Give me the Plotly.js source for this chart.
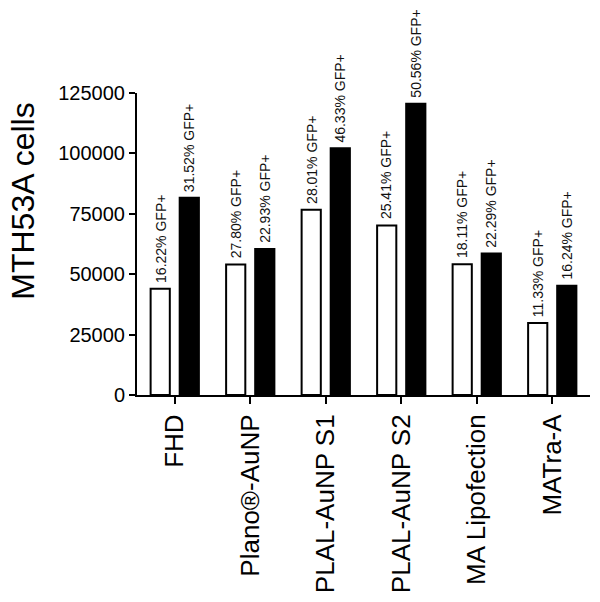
<!DOCTYPE html>
<html>
<head>
<meta charset="utf-8">
<script src="https://cdn.plot.ly/plotly-3.0.1.min.js"></script>
<style>html,body{margin:0;padding:0;background:#fff;}#chart{width:600px;height:602px;}</style>
</head>
<body>
<div id="chart"></div>
<script>
const categories = ["FHD", "Plano®-AuNP", "PLAL-AuNP S1", "PLAL-AuNP S2", "MA Lipofection", "MATra-A"];
const whiteValues = [44000, 54000, 76700, 70200, 54100, 29800];
const blackValues = [81600, 60400, 102100, 120500, 58600, 45200];
const whiteLabels = ["16.22% GFP+", "27.80% GFP+", "28.01% GFP+", "25.41% GFP+", "18.11% GFP+", "11.33% GFP+"];
const blackLabels = ["31.52% GFP+", "22.93% GFP+", "46.33% GFP+", "50.56% GFP+", "22.29% GFP+", "16.24% GFP+"];
const yTicks = [0, 25000, 50000, 75000, 100000, 125000];
const yTitle = "MTH53A cells";

const FONT = "Liberation Sans, Arial, sans-serif";
const bargap = 0.23;
const bargroupgap = 0.34;
const off = (1 - bargap) / 4;

const traces = [
  {type: "bar", x: categories, y: whiteValues, name: "white",
   marker: {color: "#ffffff", line: {color: "#000000", width: 2}}, hoverinfo: "y"},
  {type: "bar", x: categories, y: blackValues, name: "black",
   marker: {color: "#000000", line: {color: "#000000", width: 2}}, hoverinfo: "y"}
];

const annotations = [];
categories.forEach((c, i) => {
  annotations.push({xref: "x", yref: "y", x: i - off, y: whiteValues[i], text: whiteLabels[i],
    textangle: -90, showarrow: false, xanchor: "center", yanchor: "bottom", yshift: 4,
    font: {family: FONT, size: 14, color: "#111"}});
  annotations.push({xref: "x", yref: "y", x: i + off, y: blackValues[i], text: blackLabels[i],
    textangle: -90, showarrow: false, xanchor: "center", yanchor: "bottom", yshift: 4,
    font: {family: FONT, size: 14, color: "#111"}});
});
// y-axis title (placed as annotation so it can sit slightly above axis centre as in the original)
annotations.push({xref: "paper", yref: "paper", x: 0, y: 0.64, xshift: -114, text: yTitle,
  textangle: -90, showarrow: false, xanchor: "center", yanchor: "middle",
  font: {family: FONT, size: 32, color: "#000"}});

const layout = {
  width: 600, height: 602,
  margin: {l: 137, r: 10, t: 93, b: 207, pad: 0},
  paper_bgcolor: "#ffffff", plot_bgcolor: "#ffffff",
  showlegend: false,
  barmode: "group", bargap: bargap, bargroupgap: bargroupgap,
  font: {family: FONT, color: "#000"},
  xaxis: {type: "category", range: [-0.5, 5.5], tickangle: -90,
    showline: true, linecolor: "#000", linewidth: 2, mirror: false,
    ticks: "outside", ticklen: 7, tickwidth: 2, tickcolor: "#000",
    showgrid: false, zeroline: false, automargin: false,
    tickfont: {family: FONT, size: 26, color: "#000"}},
  yaxis: {range: [0, 125000], tickvals: yTicks, tickformat: "d",
    showline: true, linecolor: "#000", linewidth: 2,
    ticks: "outside", ticklen: 6, tickwidth: 2, tickcolor: "#000",
    showgrid: false, zeroline: false, automargin: false,
    tickfont: {family: FONT, size: 20, color: "#000"}},
  annotations: annotations
};

Plotly.newPlot("chart", traces, layout, {displayModeBar: false, staticPlot: true});
</script>
</body>
</html>
